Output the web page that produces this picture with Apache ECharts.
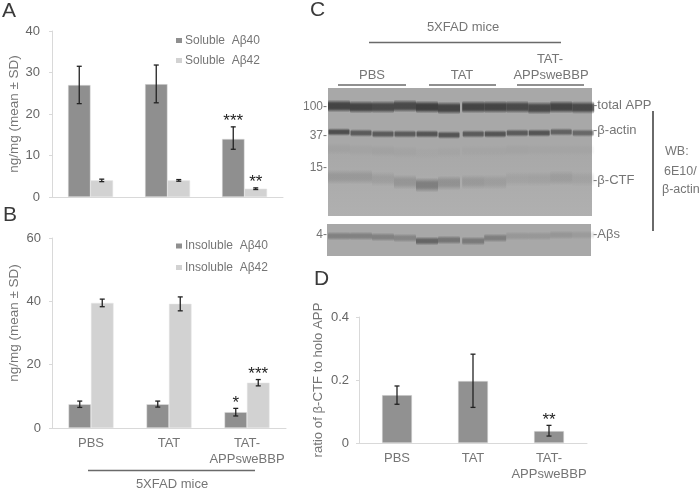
<!DOCTYPE html>
<html><head><meta charset="utf-8">
<style>html,body{margin:0;padding:0;background:#fff}#c{width:700px;height:490px;filter:blur(0.5px)}</style>
<script src="https://cdn.jsdelivr.net/npm/echarts@6/dist/echarts.min.js"></script>
</head><body><div id="c"></div>
<script>
const categories = ['PBS','TAT','TAT-\nAPPsweBBP'];
const soluble40 = [27,27.2,14];
const soluble40Low = [22.5,22.7,11.5];
const soluble40High = [31.5,31.8,16.9];
const soluble42 = [4,4,2];
const soluble42Low = [3.7,3.8,1.8];
const soluble42High = [4.3,4.2,2.2];
const insoluble40 = [7.5,7.5,5];
const insoluble40Low = [6.5,6.6,3.8];
const insoluble40High = [8.5,8.5,6.2];
const insoluble42 = [39.5,39.2,14.3];
const insoluble42Low = [38.3,37,13.3];
const insoluble42High = [40.7,41.4,15.3];
const ratio = [0.152,0.197,0.038];
const ratioLow = [0.123,0.113,0.022];
const ratioHigh = [0.181,0.282,0.056];
const starsSol40 = ['','','***'];
const starsSol42 = ['','','**'];
const starsIns40 = ['','','*'];
const starsIns42 = ['','','***'];
const starsRatio = ['','','**'];
// Western blot lanes: position along the gel and darkness of each band
const lanes = [0.5,1.5,2.5,3.5,4.5,5.5,6.6,7.6,8.6,9.6,10.6,11.6];
const appY = [106,107,107,106,107,108,107,107,107,108,107,107.5];
const appDark = [0.78,0.78,0.74,0.74,0.82,0.78,0.78,0.78,0.74,0.74,0.78,0.74];
const actinY = [132,133,134,134,134,135,134,134,133,133,132,133];
const actinDark = [0.7,0.6,0.6,0.6,0.65,0.65,0.6,0.65,0.6,0.65,0.55,0.5];
const smearY = [149,150,151,152,153,152,151,151,150,150,150,150];
const smearDark = [0.05,0.04,0.05,0.04,0.02,0.03,0.03,0.03,0.04,0.03,0.03,0.03];
const ctfY = [177,177,179,182,185,183,182,182,179,179,178,179];
const ctfDark = [0.14,0.14,0.1,0.17,0.34,0.2,0.14,0.11,0.07,0.08,0.11,0.07];
const abetaY = [236,236,237,238,241,240,241,238,236,236,235,235];
const abetaDark = [0.3,0.3,0.3,0.27,0.52,0.4,0.36,0.32,0.13,0.13,0.14,0.1];

const TXT='#757575', FONT='Liberation Sans', AX='#d9d9d9', DARK='#8f8f8f', LIGHT='#d2d2d2';
const barW=22.5;

function rows(low,high,stars){return categories.map((c,i)=>[i,low[i],high[i],stars[i]]);}
function errSeries(name,gi,low,high,stars,off){
  return {type:'custom',name,xAxisIndex:gi,yAxisIndex:gi,z:5,silent:true,data:rows(low,high,stars),
    encode:{x:0,y:[1,2]},
    renderItem(p,api){
      const a=api.coord([api.value(0),api.value(1)]),b=api.coord([api.value(0),api.value(2)]);
      const x=a[0]+off, st={stroke:'#222',lineWidth:1.3};
      const l=(x1,y1,x2,y2)=>({type:'line',shape:{x1,y1,x2,y2},style:st});
      const ch=[l(x,a[1],x,b[1]),l(x-2.5,a[1],x+2.5,a[1]),l(x-2.5,b[1],x+2.5,b[1])];
      const s=stars[api.value(0)];
      if(s) ch.push({type:'text',style:{text:s,x,y:b[1]-14,align:'center',verticalAlign:'top',fill:'#222',font:'17px "Liberation Sans"'}});
      return {type:'group',children:ch};
    }};
}
function axes(gi,max,interval,showLabels,fmt,name,nameGap,nameSize,margin){
  return {
    x:{type:'category',gridIndex:gi,data:categories,axisLine:{lineStyle:{color:AX}},axisTick:{length:3,lineStyle:{color:AX}},
       axisLabel:{show:showLabels,interval:0,color:TXT,fontFamily:FONT,fontSize:13,lineHeight:16,margin:7}},
    y:{type:'value',gridIndex:gi,min:0,max,interval,splitLine:{show:false},
       axisLine:{show:true,lineStyle:{color:AX}},axisTick:{show:true,length:3,lineStyle:{color:AX}},
       axisLabel:{color:'#666',fontFamily:FONT,fontSize:13,margin,formatter:fmt},
       name,nameLocation:'middle',nameGap,nameTextStyle:{color:TXT,fontFamily:FONT,fontSize:nameSize}}
  };
}
const a0=axes(0,40,10,false,null,'ng/mg (mean \u00b1 SD)',31,13.5,12);
const a1=axes(1,60,20,true,null,'',33,13,11);
const a2=axes(2,0.4,0.2,true,v=>v===0?'0':v.toFixed(1),'ratio of \u03b2-CTF to holo APP',34,13.2,10);

function bar(name,gi,data,color,w){return {type:'bar',name,xAxisIndex:gi,yAxisIndex:gi,data,barWidth:w,barGap:0,
  itemStyle:{color,borderColor:'#e4e4e4',borderWidth:0.5},silent:true};}
function legend(names,left,top,gap){return {orient:'vertical',left,top,data:names,itemWidth:6,itemHeight:5,itemGap:gap,
  icon:'rect',selectedMode:false,itemStyle:{borderWidth:0},textStyle:{color:TXT,fontFamily:FONT,fontSize:12,padding:[0,0,0,-2]}};}

function bandSeries(name,ys,dark,thick,width,plateau){
  return {type:'custom',name,xAxisIndex:3,yAxisIndex:3,z:3,silent:true,
    data:lanes.map((x,i)=>[x,ys[i],dark[i]]),encode:{x:0,y:1},
    renderItem(p,api){
      const c=api.coord([api.value(0),api.value(1)]), d=api.value(2);
      const col=a=>'rgba(40,40,40,'+(a*d)+')';
      const q=(1-2*plateau)/2;
      return {type:'rect',shape:{x:c[0]-width/2,y:c[1]-thick/2,width,height:thick,r:2},
        style:{fill:{type:'linear',x:0,y:0,x2:0,y2:1,colorStops:[
          {offset:0,color:col(0)},{offset:q*.4,color:col(.45)},{offset:q*.75,color:col(.9)},{offset:q,color:col(1)},
          {offset:1-q,color:col(1)},{offset:1-q*.75,color:col(.9)},{offset:1-q*.4,color:col(.45)},{offset:1,color:col(0)}]}}};
    }};
}
function t(text,x,y,o={}){return {type:'text',z:6,x,y,style:Object.assign({text,fill:TXT,font:'12.5px "Liberation Sans"',align:'left',verticalAlign:'middle'},o)};}
function ln(x1,y1,x2,y2,w=1.5){return {type:'line',z:6,shape:{x1,y1,x2,y2},style:{stroke:'#6a6a6a',lineWidth:w}};}
const letter={font:'21px "Liberation Sans"',fill:'#3a3a3a'};
const f13={align:'center',font:'13px "Liberation Sans"'};
const r12={align:'right',font:'12px "Liberation Sans"'};
const l13={font:'13px "Liberation Sans"'};

const option={
  animation:false,
  grid:[
    {left:52,top:31,width:231,height:166},
    {left:52,top:238,width:234,height:190},
    {left:359,top:317,width:228,height:126},
    {left:328,top:88,width:264,height:168}
  ],
  xAxis:[a0.x,a1.x,a2.x,{type:'value',gridIndex:3,min:0,max:12,show:false}],
  yAxis:[a0.y,a1.y,a2.y,{type:'value',gridIndex:3,min:88,max:256,inverse:true,show:false}],
  legend:[legend(['Soluble  A\u03b240','Soluble  A\u03b242'],171,29.5,8),legend(['Insoluble  A\u03b240','Insoluble  A\u03b242'],171,235,9.5)],
  graphic:[
    {type:'rect',z:-1,shape:{x:328,y:88,width:264,height:128},style:{fill:{type:'linear',x:0,y:0,x2:0,y2:1,colorStops:[{offset:0,color:'#a8a8a8'},{offset:.5,color:'#a8a8a8'},{offset:1,color:'#b0b0b0'}]}}},
    {type:'rect',z:-1,shape:{x:327,y:224,width:264,height:32},style:{fill:'#a8a8a8'}},
    t('A',2,11,letter),t('B',3,215,letter),t('C',310,10,letter),t('D',314,279,letter),
    {type:'text',z:6,x:14,y:323,rotation:Math.PI/2,style:{text:'ng/mg (mean \u00b1 SD)',fill:TXT,font:'13.5px "Liberation Sans"',align:'center',verticalAlign:'middle'}},
    ln(88,470.5,255,470.5),t('5XFAD mice',172,484,f13),
    t('5XFAD mice',463,27,f13),ln(369,42.5,561,42.5),
    t('PBS',372,75,f13),ln(338,85,406,85),
    t('TAT',462,75,f13),ln(429,85,496,85),
    t('TAT-',550,59,f13),t('APPsweBBP',551,75,f13),ln(517,85,584,85),
    t('100-',327,107,r12),t('37-',327,136,r12),t('15-',327,168,r12),t('4-',327,235,r12),
    t('-total APP',593,105,l13),t('-\u03b2-actin',593,130,l13),t('-\u03b2-CTF',593,180,l13),t('-A\u03b2s',593,234,l13),
    ln(653,111,653,231,2),
    t('WB:',665,152),t('6E10/',664,172),t('\u03b2-actin',662,190)
  ],
  series:[
    bar('Soluble  A\u03b240',0,soluble40,DARK,barW),bar('Soluble  A\u03b242',0,soluble42,LIGHT,barW),
    errSeries('e1',0,soluble40Low,soluble40High,starsSol40,-barW/2),errSeries('e2',0,soluble42Low,soluble42High,starsSol42,barW/2),
    bar('Insoluble  A\u03b240',1,insoluble40,DARK,barW),bar('Insoluble  A\u03b242',1,insoluble42,LIGHT,barW),
    errSeries('e3',1,insoluble40Low,insoluble40High,starsIns40,-barW/2),errSeries('e4',1,insoluble42Low,insoluble42High,starsIns42,barW/2),
    bar('ratio',2,ratio,'#919191',30),errSeries('e5',2,ratioLow,ratioHigh,starsRatio,0),
    bandSeries('app',appY,appDark,13,22,.15),bandSeries('actin',actinY,actinDark,8,21,.1),
    bandSeries('smear',smearY,smearDark,12,22,.1),
    bandSeries('ctf',ctfY,ctfDark,15,22,.1),bandSeries('abeta',abetaY,abetaDark,9,22,.1)
  ]
};
echarts.init(document.getElementById('c'),null,{renderer:'canvas'}).setOption(option);
</script></body></html>
